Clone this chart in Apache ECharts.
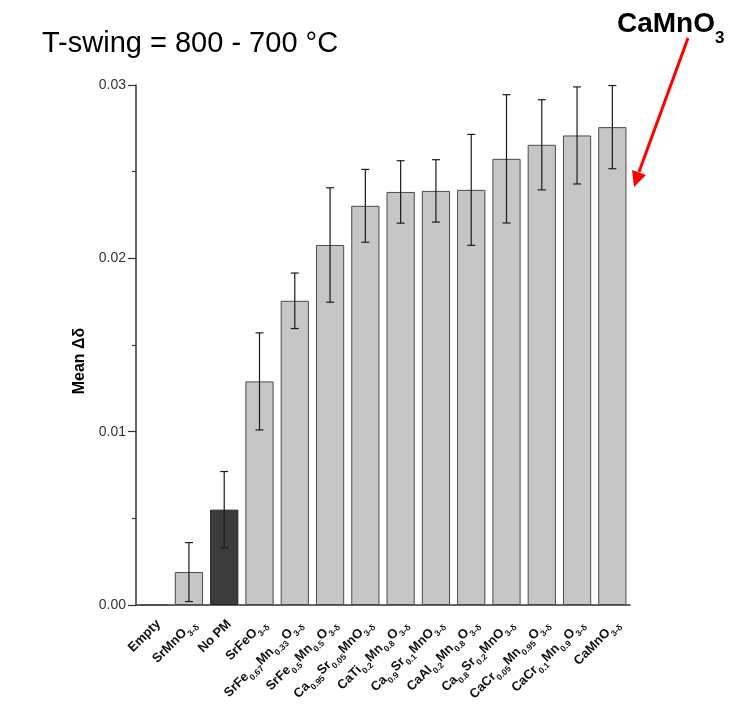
<!DOCTYPE html>
<html>
<head>
<meta charset="utf-8">
<script src="https://cdn.jsdelivr.net/npm/echarts@6/dist/echarts.min.js"></script>
<style>
  html, body { margin: 0; padding: 0; background: #fff; }
  #chart { width: 731px; height: 718px; }
</style>
</head>
<body>
<div id="chart"></div>
<script>
// formula pieces: even index = normal text, odd index = subscript
const formulas = [
  ['Empty'],
  ['SrMnO', '3-δ'],
  ['No PM'],
  ['SrFeO', '3-δ'],
  ['SrFe', '0.67', 'Mn', '0.33', 'O', '3-δ'],
  ['SrFe', '0.5', 'Mn', '0.5', 'O', '3-δ'],
  ['Ca', '0.95', 'Sr', '0.05', 'MnO', '3-δ'],
  ['CaTi', '0.2', 'Mn', '0.8', 'O', '3-δ'],
  ['Ca', '0.9', 'Sr', '0.1', 'MnO', '3-δ'],
  ['CaAl', '0.2', 'Mn', '0.8', 'O', '3-δ'],
  ['Ca', '0.8', 'Sr', '0.2', 'MnO', '3-δ'],
  ['CaCr', '0.05', 'Mn', '0.95', 'O', '3-δ'],
  ['CaCr', '0.1', 'Mn', '0.9', 'O', '3-δ'],
  ['CaMnO', '3-δ']
];
const categories = formulas.map(p => p.join(''));
const meanDelta = [0, 0.0019, 0.0055, 0.0129, 0.01755, 0.02077, 0.02303, 0.02383, 0.02389, 0.02395, 0.02574, 0.02655, 0.02709, 0.02757];
const errDelta = [0, 0.0017, 0.0022, 0.0028, 0.0016, 0.0033, 0.0021, 0.0018, 0.0018, 0.0032, 0.0037, 0.0026, 0.0028, 0.0024];
const darkBar = 'No PM';

const font = '"Liberation Sans", Arial, sans-serif';

function richLabel(value, index) {
  return formulas[index].map((t, i) => i % 2 ? '{s|' + t + '}' : '{n|' + t + '}').join('');
}

let myChart = echarts.init(document.getElementById('chart'));

const errData = [];
meanDelta.forEach((m, i) => {
  if (errDelta[i] > 0) errData.push([i, m - errDelta[i], m + errDelta[i]]);
});

myChart.setOption({
  backgroundColor: '#fff',
  animation: false,
  title: [{
    text: 'T-swing = 800 - 700 °C',
    left: 37,
    top: 24,
    textStyle: { fontFamily: font, fontSize: 29, fontWeight: 'normal', color: '#000' }
  }, {
    text: '{b|CaMnO}{s|3}',
    left: 612,
    top: 5,
    textStyle: {
      rich: {
        b: { fontFamily: font, fontSize: 28, fontWeight: 'bold', color: '#000', lineHeight: 30, verticalAlign: 'top' },
        s: { fontFamily: font, fontSize: 17, fontWeight: 'bold', color: '#000', lineHeight: 16, verticalAlign: 'top', padding: [20, 0, 0, 0] }
      }
    }
  }],
  grid: { left: 136, right: 101, top: 85, bottom: 113, containLabel: false },
  xAxis: [{
    type: 'category',
    data: categories,
    boundaryGap: true,
    axisLine: { lineStyle: { color: '#333', width: 1.5 } },
    axisTick: { alignWithLabel: true, length: 7, lineStyle: { color: '#333', width: 1.2 } },
    axisLabel: {
      rotate: 45,
      margin: 12,
      interval: 0,
      padding: [16, 0, 0, 0],
      formatter: richLabel,
      rich: {
        n: { fontFamily: font, fontSize: 13, fontWeight: 'bold', color: '#111', lineHeight: 15, verticalAlign: 'top' },
        s: { fontFamily: font, fontSize: 8.5, fontWeight: 'bold', color: '#111', lineHeight: 9, verticalAlign: 'top', padding: [8, 0, 0, 0] }
      }
    },
    splitLine: { show: false }
  }, {
    type: 'category',
    data: categories,
    position: 'bottom',
    boundaryGap: true,
    axisLine: { show: false },
    axisTick: { length: 4, lineStyle: { color: '#333', width: 1.2 } },
    axisLabel: { show: false },
    splitLine: { show: false }
  }],
  yAxis: {
    type: 'value',
    min: 0,
    max: 0.03,
    interval: 0.01,
    name: 'Mean Δδ',
    nameLocation: 'middle',
    nameGap: 42,
    nameTextStyle: { fontFamily: font, fontSize: 16, fontWeight: 'bold', color: '#000', padding: [0, 32, 0, 0] },
    axisLine: { show: true, lineStyle: { color: '#333', width: 1.5 } },
    axisTick: { show: true, length: 8, lineStyle: { color: '#333', width: 1.2 } },
    minorTick: { show: true, splitNumber: 2, length: 4, lineStyle: { color: '#333', width: 1.2 } },
    axisLabel: {
      margin: 10,
      fontFamily: font,
      fontSize: 14,
      color: '#333',
      formatter: v => v.toFixed(2)
    },
    splitLine: { show: false }
  },
  series: [{
    type: 'bar',
    barWidth: '80%',
    data: meanDelta.map((v, i) => ({
      value: v,
      itemStyle: categories[i] === darkBar
        ? { color: '#3c3c3c', borderColor: '#222', borderWidth: 1 }
        : { color: '#c6c6c6', borderColor: '#4a4a4a', borderWidth: 1 }
    }))
  }, {
    type: 'custom',
    z: 5,
    data: errData,
    renderItem: (params, api) => {
      const x = api.value(0);
      const lo = api.coord([x, api.value(1)]);
      const hi = api.coord([x, api.value(2)]);
      const cap = 4;
      const st = { stroke: '#1a1a1a', lineWidth: 1.2 };
      return {
        type: 'group',
        children: [
          { type: 'line', shape: { x1: hi[0], y1: hi[1], x2: lo[0], y2: lo[1] }, style: st },
          { type: 'line', shape: { x1: hi[0] - cap, y1: hi[1], x2: hi[0] + cap, y2: hi[1] }, style: st },
          { type: 'line', shape: { x1: lo[0] - cap, y1: lo[1], x2: lo[0] + cap, y2: lo[1] }, style: st }
        ]
      };
    }
  }],
  graphic: [{
    type: 'line',
    shape: { x1: 688, y1: 38, x2: 639, y2: 172 },
    style: { stroke: '#ff0000', lineWidth: 3 }
  }, {
    type: 'polygon',
    shape: { points: [[634, 187], [646, 175], [632, 170]] },
    style: { fill: '#ff0000' }
  }]
});
</script>
</body>
</html>
